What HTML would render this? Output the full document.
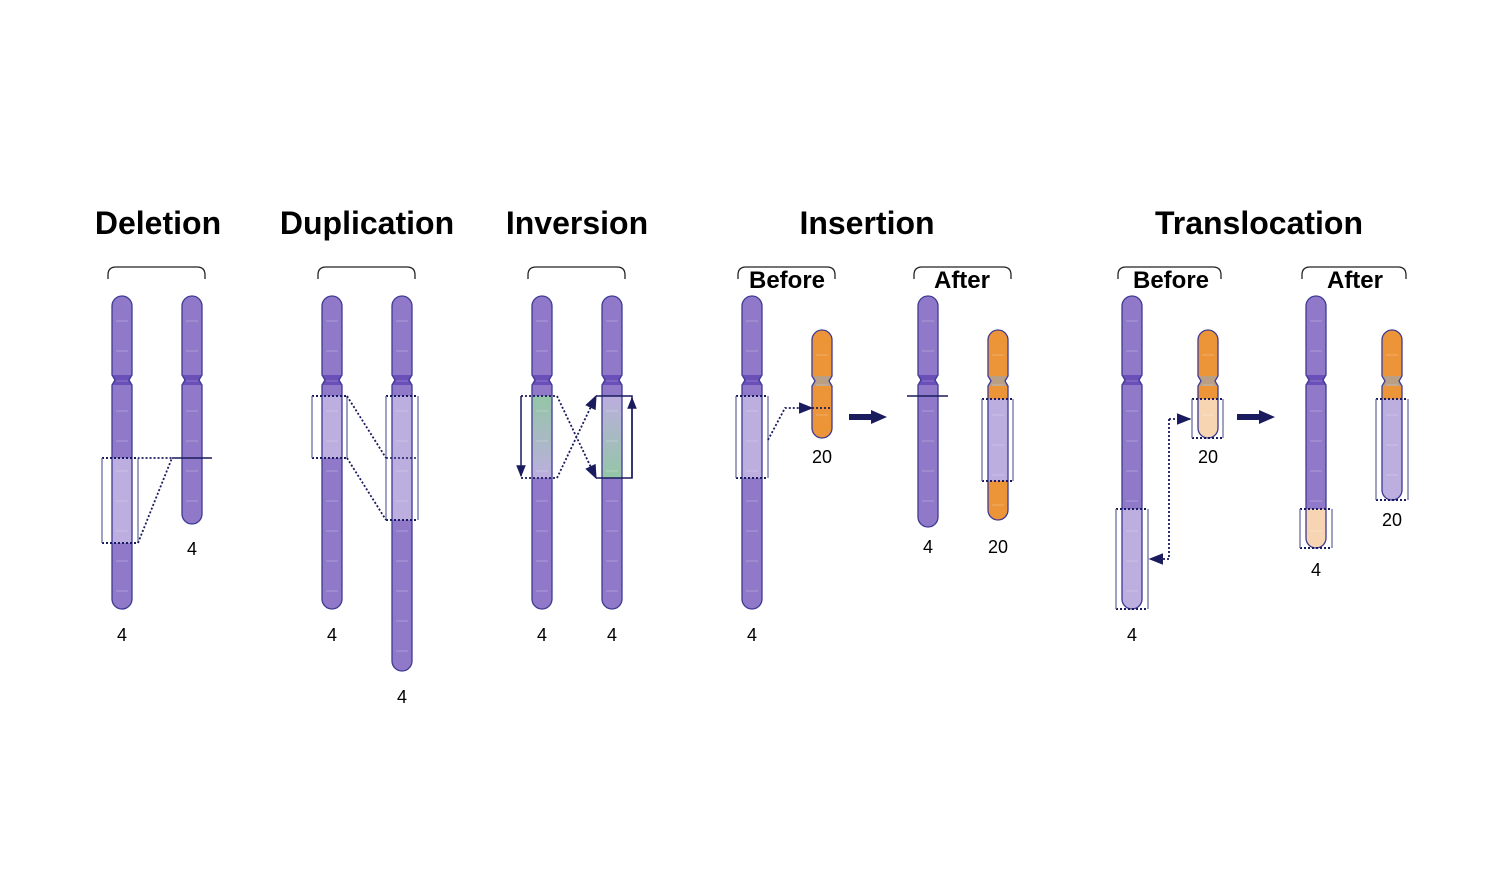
<!DOCTYPE html>
<html><head><meta charset="utf-8"><style>
html,body{margin:0;padding:0;background:#fff;}
svg{display:block;font-family:"Liberation Sans",Arial,sans-serif;}
.t{font-weight:bold;font-size:32px;text-anchor:middle;fill:#000;}
.s{font-weight:bold;font-size:24px;text-anchor:middle;fill:#000;}
.n{font-size:18px;text-anchor:middle;fill:#000;}
</style></head><body>
<svg id="svg" width="1501" height="873" viewBox="0 0 1501 873">
<defs>
<linearGradient id="gdown" x1="0" y1="0" x2="0" y2="1"><stop offset="0" stop-color="#93c6a6"/><stop offset="1" stop-color="#bcaede"/></linearGradient>
<linearGradient id="gup" x1="0" y1="0" x2="0" y2="1"><stop offset="0" stop-color="#bcaede"/><stop offset="1" stop-color="#93c6a6"/></linearGradient>
<marker id="ah" viewBox="0 0 10 10" refX="9" refY="5" markerWidth="8" markerHeight="8" orient="auto-start-reverse"><path d="M0,1 L10,5 L0,9 Z" fill="#1a1a5e"/></marker>
</defs>
<text class="t" x="158" y="234">Deletion</text>
<text class="t" x="367" y="234">Duplication</text>
<text class="t" x="577" y="234">Inversion</text>
<text class="t" x="867" y="234">Insertion</text>
<text class="t" x="1259" y="234">Translocation</text>
<text class="s" x="787" y="288">Before</text>
<text class="s" x="962" y="288">After</text>
<text class="s" x="1171" y="288">Before</text>
<text class="s" x="1355" y="288">After</text>
<g id="g"></g>
</svg>
<script>
const NS='http://www.w3.org/2000/svg';
const G=document.getElementById('g');
function el(tag,attrs,name){const e=document.createElementNS(NS,tag);for(const k in attrs)e.setAttribute(k,attrs[k]);


G.appendChild(e);return e;}
const DK='#1a1a5e', ST='#3d3a94';
function chrom(name,cx,top,bot,cen,col,cenCol,segs){
  const w=20,x0=cx-w/2,x1=cx+w/2,r=10;
  let d;
  if(cen){d=`M${x0},${top+r} A${r},${r} 0 0 1 ${x1},${top+r} L${x1},${cen-5} L${x1-3},${cen} L${x1},${cen+5} L${x1},${bot-r} A${r},${r} 0 0 1 ${x0},${bot-r} L${x0},${cen+5} L${x0+3},${cen} L${x0},${cen-5} Z`;}
  else d=`M${x0},${top+r} A${r},${r} 0 0 1 ${x1},${top+r} L${x1},${bot-r} A${r},${r} 0 0 1 ${x0},${bot-r} Z`;
  const cp='cp'+name;
  const c=el('clipPath',{id:cp},name+'-clip');c.appendChild(el('path',{d},name+'-clip-path'));
  el('path',{d,fill:col},name);
  (segs||[]).forEach((s,i)=>el('rect',{x:x0,y:s[0],width:w,height:s[1]-s[0],fill:s[2],'clip-path':`url(#${cp})`},name+'-segment-'+i));
  if(cen) el('rect',{x:x0,y:cen-5,width:w,height:10,fill:cenCol,'clip-path':`url(#${cp})`},name+'-centromere');
  for(let y=top+25;y<bot-10;y+=30) el('line',{x1:x0+4,x2:x1-4,y1:y,y2:y,stroke:'#fff','stroke-opacity':0.25,'stroke-width':1},name+'-band');
  el('path',{d,fill:'none',stroke:ST,'stroke-width':1.3},name+'-outline');
}
function bracket(name,a,b,y){el('path',{d:`M${a},${y+12} L${a},${y+8} Q${a},${y} ${a+8},${y} L${b-8},${y} Q${b},${y} ${b},${y+8} L${b},${y+12}`,fill:'none',stroke:'#222','stroke-width':1.3},name);}
function box(name,x0,x1,y0,y1){
  el('line',{x1:x0,x2:x1,y1:y0,y2:y0,stroke:DK,'stroke-width':2,'stroke-dasharray':'2,2'},name+'-top');
  el('line',{x1:x0,x2:x1,y1:y1,y2:y1,stroke:DK,'stroke-width':2,'stroke-dasharray':'2,2'},name+'-bottom');
  el('line',{x1:x0,x2:x0,y1:y0,y2:y1,stroke:'#6b6fa6','stroke-width':1.3},name+'-left');
  el('line',{x1:x1,x2:x1,y1:y0,y2:y1,stroke:'#6b6fa6','stroke-width':1.3},name+'-right');
}
function dots(name,pts,arrow){const a={points:pts.map(p=>p.join(',')).join(' '),fill:'none',stroke:DK,'stroke-width':1.8,'stroke-dasharray':'2,2'};if(arrow)a['marker-end']='url(#ah)';el('polyline',a,name);}
function label(name,x,y,t){const e=el('text',{x,y,class:'n'},name);e.textContent=t;}
function bigArrow(name,x0,x1,y){el('path',{d:`M${x0},${y-3} L${x1-16},${y-3} L${x1-16},${y-7} L${x1},${y} L${x1-16},${y+7} L${x1-16},${y+3} L${x0},${y+3} Z`,fill:DK},name);}
const P='#9179c9',PC='#6a4fb8',L='#bcaede',O='#ec9438',OC='#b99f86',PE='#f7d5b2';

bracket('deletion-bracket',108,205,267);
chrom('deletion-chr4-a',122,296,609,380,P,PC,[[458,543,L]]);
box('deletion-box',102,138,458,543);
chrom('deletion-chr4-b',192,296,524,380,P,PC,[]);
dots('deletion-line',[[138,543],[172,458],[138,458]]);
el('line',{x1:172,x2:212,y1:458,y2:458,stroke:DK,'stroke-width':1.5},'deletion-breakpoint');
label('deletion-label-a',122,641,'4');label('deletion-label-b',192,555,'4');

bracket('duplication-bracket',318,415,267);
chrom('duplication-chr4-a',332,296,609,380,P,PC,[[396,458,L]]);
box('duplication-box-a',312,347,396,458);
chrom('duplication-chr4-b',402,296,671,380,P,PC,[[396,520,L]]);
box('duplication-box-b',386,418,396,520);
el('line',{x1:386,x2:418,y1:458,y2:458,stroke:DK,'stroke-width':1.5,'stroke-dasharray':'2,2'},'duplication-mid');
dots('duplication-line-1',[[347,396],[386,458]]);
dots('duplication-line-2',[[347,458],[386,520]]);
label('duplication-label-a',332,641,'4');label('duplication-label-b',402,703,'4');

bracket('inversion-bracket',528,625,267);
chrom('inversion-chr4-a',542,296,609,380,P,PC,[[396,478,'url(#gdown)']]);
chrom('inversion-chr4-b',612,296,609,380,P,PC,[[396,478,'url(#gup)']]);
dots('inversion-top',[[521,396],[557,396]]);dots('inversion-bot',[[521,478],[557,478]]);
el('line',{x1:521,x2:521,y1:396,y2:476,stroke:DK,'stroke-width':1.5,'marker-end':'url(#ah)'},'inversion-arrow-down');
el('polyline',{points:'596,396 632,396 632,478 596,478',fill:'none',stroke:DK,'stroke-width':1.5},'inversion-box-b');
el('line',{x1:632,x2:632,y1:478,y2:398,stroke:DK,'stroke-width':1.5,'marker-end':'url(#ah)'},'inversion-arrow-up');
dots('inversion-cross-1',[[557,396],[596,478]],true);
dots('inversion-cross-2',[[557,478],[596,396]],true);
label('inversion-label-a',542,641,'4');label('inversion-label-b',612,641,'4');

bracket('insertion-before-bracket',738,835,267);bracket('insertion-after-bracket',914,1011,267);
chrom('insertion-chr4-before',752,296,609,380,P,PC,[[396,478,L]]);
box('insertion-box-before',736,768,396,478);
chrom('insertion-chr20-before',822,330,438,381,O,OC,[]);
dots('insertion-arrow',[[768,440],[785,408],[812,408]],true);
dots('insertion-target',[[812,408],[832,408]]);
label('insertion-label-4',752,641,'4');label('insertion-label-20',822,463,'20');
bigArrow('insertion-step-arrow',849,887,417);
chrom('insertion-chr4-after',928,296,527,380,P,PC,[]);
el('line',{x1:907,x2:948,y1:396,y2:396,stroke:DK,'stroke-width':1.5},'insertion-deleted-mark');
chrom('insertion-chr20-after',998,330,520,381,O,OC,[[399,481,L]]);
box('insertion-box-after',982,1013,399,481);
label('insertion-after-label-4',928,553,'4');label('insertion-after-label-20',998,553,'20');

bracket('translocation-before-bracket',1118,1221,267);bracket('translocation-after-bracket',1302,1406,267);
chrom('translocation-chr4-before',1132,296,609,380,P,PC,[[509,609,L]]);
box('translocation-box-4',1116,1148,509,609);
chrom('translocation-chr20-before',1208,330,438,381,O,OC,[[399,438,PE]]);
box('translocation-box-20',1192,1223,399,438);
dots('translocation-exchange',[[1169,419],[1169,559],[1150,559]],true);
dots('translocation-exchange-2',[[1169,419],[1190,419]],true);
label('translocation-label-4',1132,641,'4');label('translocation-label-20',1208,463,'20');
bigArrow('translocation-step-arrow',1237,1275,417);
chrom('translocation-chr4-after',1316,296,548,380,P,PC,[[509,548,PE]]);
box('translocation-box-4-after',1300,1332,509,548);
chrom('translocation-chr20-after',1392,330,500,381,O,OC,[[399,500,L]]);
box('translocation-box-20-after',1376,1408,399,500);
label('translocation-after-label-4',1316,576,'4');label('translocation-after-label-20',1392,526,'20');
</script>
</body></html>
